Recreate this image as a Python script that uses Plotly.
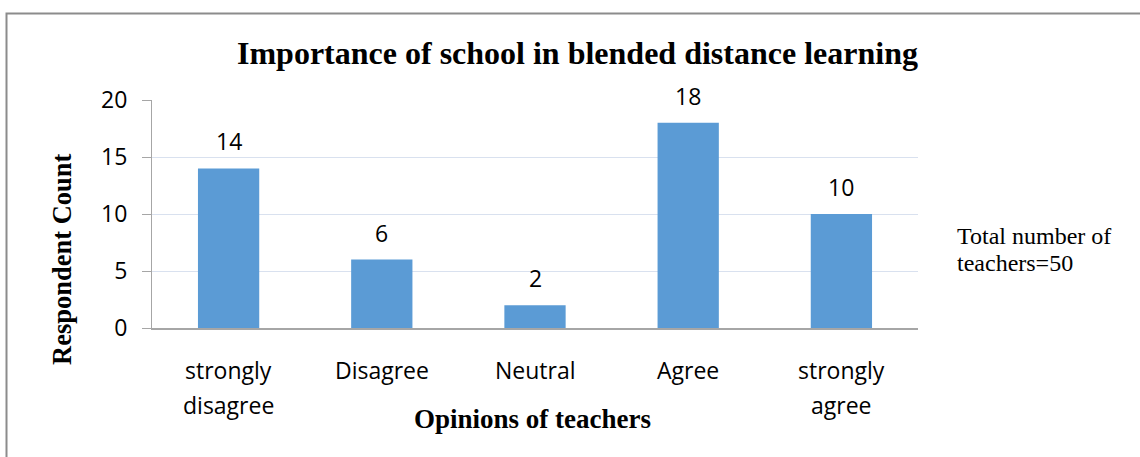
import plotly.graph_objects as go

categories = ["strongly\ndisagree", "Disagree", "Neutral", "Agree", "strongly\nagree"]
counts = [14, 6, 2, 18, 10]
y_ticks = [0, 5, 10, 15, 20]
title_text = "Importance of school in blended distance learning"
x_title = "Opinions of teachers"
y_title = "Respondent Count"
note_lines = ["Total number of", "teachers=50"]

W, H = 1140, 457
L, R, T, B = 152, 222, 100, 129
PW, PH = W - L - R, H - T - B

def px_x(px):
    return (px - L) / PW

def px_y(py):
    return (H - B - py) / PH

fig = go.Figure()
fig.add_trace(go.Bar(
    x=list(range(len(categories))), y=counts,
    marker=dict(color="#5B9BD5", line=dict(width=0)),
    hoverinfo="skip",
))

anns = []
# data labels
for i, v in enumerate(counts):
    anns.append(dict(x=i, y=v, xref="x", yref="y", text=str(v), showarrow=False,
                     yanchor="middle", yshift=27,
                     font=dict(family="Open Sans", size=23, color="#000")))
# category labels (two-line spacing as in reference)
for i, c in enumerate(categories):
    for j, line in enumerate(c.split("\n")):
        anns.append(dict(x=i, y=px_y(370 + 35 * j), xref="x", yref="paper", text=line,
                         showarrow=False, yanchor="middle",
                         font=dict(family="Open Sans", size=23, color="#000")))
# title
anns.append(dict(x=px_x(577), y=px_y(53), xref="paper", yref="paper", text="<b>" + title_text + "</b>",
                 showarrow=False, xanchor="center", yanchor="middle",
                 font=dict(family="Liberation Serif", size=32, color="#000")))
# axis titles
anns.append(dict(x=px_x(532), y=px_y(419), xref="paper", yref="paper", text="<b>" + x_title + "</b>",
                 showarrow=False, xanchor="center", yanchor="middle",
                 font=dict(family="Liberation Serif", size=27, color="#000")))
anns.append(dict(x=px_x(62), y=px_y(260), xref="paper", yref="paper", text="<b>" + y_title + "</b>",
                 showarrow=False, xanchor="center", yanchor="middle", textangle=-90,
                 font=dict(family="Liberation Serif", size=26.5, color="#000")))
# note
for j, line in enumerate(note_lines):
    anns.append(dict(x=px_x(955), y=px_y(236 + 27 * j), xref="paper", yref="paper", text=line,
                     showarrow=False, xanchor="left", yanchor="middle", align="left",
                     font=dict(family="Liberation Serif", size=24, color="#000")))

fig.update_layout(
    width=W, height=H,
    margin=dict(l=L, r=R, t=T, b=B, pad=0),
    paper_bgcolor="white", plot_bgcolor="white",
    showlegend=False, bargap=0.6,
    annotations=anns,
    shapes=[dict(type="rect", xref="paper", yref="paper",
                 x0=px_x(6.5), x1=px_x(W + 20), y0=px_y(H + 20), y1=px_y(13.5),
                 line=dict(color="#8c8c8c", width=2), layer="above")],
    xaxis=dict(range=[-0.5, len(categories) - 0.5], showticklabels=False, showgrid=False,
               zeroline=False, showline=True, linecolor="#a6a6a6", linewidth=1.5, ticks=""),
    yaxis=dict(range=[0, 20], tickvals=y_ticks, showgrid=True, gridcolor="#d9e1ef", gridwidth=1,
               zeroline=False, showline=True, linecolor="#a6a6a6", linewidth=1,
               ticks="outside", ticklen=9, tickcolor="#a6a6a6", ticklabelstandoff=10,
               tickfont=dict(family="Open Sans", size=23, color="#000")),
)

fig.write_html("out.html")
